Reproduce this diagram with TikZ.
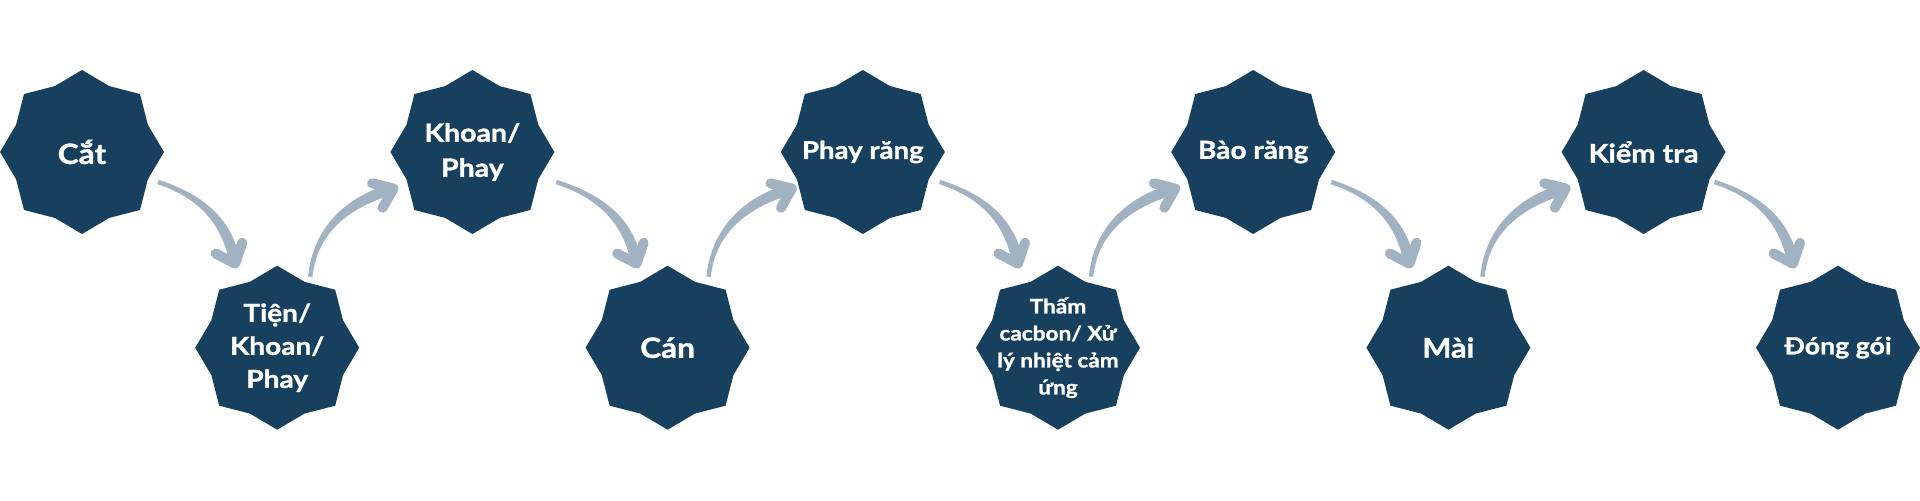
\documentclass[tikz,border=0pt]{standalone}
\usepackage{fontspec}
\setmainfont{Lato}[BoldFeatures={FakeBold=1.2,FakeStretch=1.13}]
\usetikzlibrary{shapes.geometric,calc}

\begin{document}
\begin{tikzpicture}[x=0.5pt,y=0.5pt,
  stepstar/.style={star, star points=8, star point ratio=1.15, minimum size=82pt,
    inner sep=0pt, outer sep=0pt, fill=stepblue},
  steplabel/.style 2 args={text=white, align=center, inner sep=0pt,
    font=\bfseries\fontsize{#1}{#2}\selectfont},
  flowhead/.style={draw=flowgray, line width=5pt, line cap=round, line join=round}]

% Colors
\definecolor{stepblue}{RGB}{23,64,95}
\definecolor{flowgray}{RGB}{161,179,194}

\useasboundingbox (0,0) rectangle (1920,500);

% Stars
\foreach \i/\x/\y in {1/82/348, 2/277.2/152.3, 3/472.4/348, 4/667.6/152.3, 5/862.8/348,
    6/1058/152.3, 7/1253.2/348, 8/1448.4/152.3, 9/1643.6/348, 10/1838/152.3} {
  \node[stepstar] (st\i) at (\x,\y) {};
}

% Labels
\node[steplabel={14}{18}] (lb1) at (st1) {Cắt};
\node[steplabel={12.4}{16.5}] (lb2) at (st2) {Tiện/\\Khoan/\\Phay};
\node[steplabel={12.6}{17.5}] (lb3) at (st3) {Khoan/\\Phay};
\node[steplabel={14}{18}] (lb4) at (st4) {Cán};
\node[steplabel={12.2}{16}] (lb5) at (st5) {Phay răng};
\node[steplabel={10}{13.5}] (lb6) at (st6) {Thấm\\cacbon/ Xử\\lý nhiệt cảm\\ứng};
\node[steplabel={12.4}{16}] (lb7) at (st7) {Bào răng};
\node[steplabel={13.6}{18}] (lb8) at (st8) {Mài};
\node[steplabel={12.8}{17}] (lb9) at (st9) {Kiểm tra};
\node[steplabel={11.8}{16}] (lb10) at (st10) {Đóng gói};

% Arrows down (top row -> bottom row)
\foreach \a/\b/\tx/\hx in {1/2/76/-42, 3/4/84/-31, 5/6/77/-40, 7/8/78/-39, 9/10/71/-45} {
  \coordinate (tail) at ([shift={(\tx,-30)}]st\a.center);
  \coordinate (tip) at ([shift={(\hx,84)}]st\b.center);
  \fill[flowgray] ($(tail)+(0.7,2.1)$) to[out=-18,in=100] ($(tip)+(5.4,1)$)
    -- ($(tip)-(5.4,1)$) to[out=100,in=-18] ($(tail)-(0.7,2.1)$) -- cycle;
  \draw[flowhead] ($(tip)+(-19.5,10.2)$) -- (tip) -- ($(tip)+(7,20.9)$);
}

% Arrows up (bottom row -> top row)
\foreach \a/\b/\tx/\hx in {2/3/33/-79, 4/5/41/-71, 6/7/33/-78, 8/9/34/-78} {
  \coordinate (tail) at ([shift={(\tx,71)}]st\a.center);
  \coordinate (tip) at ([shift={(\hx,-36.6)}]st\b.center);
  \fill[flowgray] ($(tail)+(-2.2,0.2)$) to[out=84,in=196] ($(tip)+(-1.5,5.3)$)
    -- ($(tip)-(-1.5,5.3)$) to[out=196,in=84] ($(tail)-(-2.2,0.2)$) -- cycle;
  \draw[flowhead] ($(tip)+(-21.3,5.3)$) -- (tip) -- ($(tip)+(-10.8,-19.2)$);
}

\end{tikzpicture}
\end{document}
